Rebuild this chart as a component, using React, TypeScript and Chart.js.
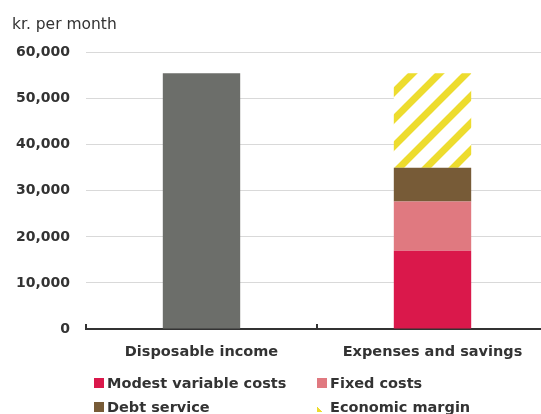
import React, { useEffect, useRef } from "react";
import { Chart, registerables } from "chart.js";

Chart.register(...registerables);

const categories = ["Disposable income", "Expenses and savings"];
const disposableIncome = [55500, null];
const modestVariableCosts = [null, 17000];
const fixedCosts = [null, 10700];
const debtService = [null, 7300];
const economicMargin = [null, 20500];
const yTicks = [0, 10000, 20000, 30000, 40000, 50000, 60000];

const TEXT = "#333333";
const FONT = "'DejaVu Sans', sans-serif";

function makeStripes(): CanvasPattern | string {
  const s = 27;
  const c = document.createElement("canvas");
  c.width = s;
  c.height = s;
  const ctx = c.getContext("2d");
  if (!ctx) return "#eddc2e";
  ctx.fillStyle = "#ffffff";
  ctx.fillRect(0, 0, s, s);
  ctx.strokeStyle = "#eddc2e";
  ctx.lineWidth = 7;
  ctx.beginPath();
  for (const k of [-s, 0, s]) {
    ctx.moveTo(k - s, 2 * s);
    ctx.lineTo(k + 2 * s, -s);
  }
  ctx.stroke();
  return ctx.createPattern(c, "repeat") || "#eddc2e";
}

const upTicks = {
  id: "upTicks",
  afterDraw(chart: any) {
    const x = chart.scales.x;
    const area = chart.chartArea;
    const ctx = chart.ctx;
    const step = x.getPixelForValue(1) - x.getPixelForValue(0);
    ctx.save();
    ctx.strokeStyle = TEXT;
    ctx.lineWidth = 2;
    for (let i = 0; i <= categories.length; i++) {
      const px = Math.round(x.getPixelForValue(i) - step / 2);
      ctx.beginPath();
      ctx.moveTo(px, area.bottom + 1);
      ctx.lineTo(px, area.bottom - 5);
      ctx.stroke();
    }
    ctx.restore();
  },
};

export default function App() {
  const ref = useRef<HTMLCanvasElement>(null);

  useEffect(() => {
    if (!ref.current) return;
    const stripes = makeStripes();
    const barOpts = { categoryPercentage: 1, barPercentage: 0.335, borderWidth: 0 };
    const chart = new Chart(ref.current, {
      type: "bar",
      data: {
        labels: categories,
        datasets: [
          { label: "Disposable income", data: disposableIncome, backgroundColor: "#6c6e6a", ...barOpts },
          { label: "Modest variable costs", data: modestVariableCosts, backgroundColor: "#da184b", ...barOpts },
          { label: "Fixed costs", data: fixedCosts, backgroundColor: "#e07980", ...barOpts },
          { label: "Debt service", data: debtService, backgroundColor: "#775b37", ...barOpts },
          { label: "Economic margin", data: economicMargin, backgroundColor: stripes as any, ...barOpts },
        ],
      },
      options: {
        responsive: false,
        animation: false,
        layout: { padding: { left: 12, right: 0, top: 0, bottom: 50 } },
        plugins: {
          legend: { display: false },
          tooltip: { enabled: false },
          title: {
            display: true,
            text: "kr. per month",
            align: "start",
            color: TEXT,
            font: { family: FONT, size: 15.5, weight: "normal" },
            padding: { top: 16, bottom: 18 },
          },
        },
        scales: {
          x: {
            stacked: true,
            border: { display: true, color: TEXT, width: 2 },
            grid: { display: false, drawTicks: false },
            ticks: {
              color: TEXT,
              font: { family: FONT, size: 14.5, weight: "bold" },
              padding: 15,
            },
            afterFit: (s: any) => {
              s.height = 35;
            },
          },
          y: {
            stacked: true,
            min: 0,
            max: 60000,
            border: { display: false },
            grid: { color: "#d9d9d9", lineWidth: 1, drawTicks: false },
            afterBuildTicks: (s: any) => {
              s.ticks = yTicks.map((v) => ({ value: v }));
            },
            afterFit: (s: any) => {
              s.width = 74;
            },
            ticks: {
              color: TEXT,
              font: { family: FONT, size: 14, weight: "bold" },
              padding: 16,
              callback: (v: any) => Number(v).toLocaleString("en-US"),
            },
          },
        },
      },
      plugins: [upTicks],
    });
    return () => chart.destroy();
  }, []);

  const legendItems = [
    { label: "Modest variable costs", bg: "#da184b" },
    { label: "Fixed costs", bg: "#e07980" },
    { label: "Debt service", bg: "#775b37" },
    { label: "Economic margin", bg: "linear-gradient(45deg, #eddc2e 0 28%, #ffffff 28% 100%)" },
  ];

  return (
    <div style={{ position: "absolute", left: 0, top: 0, width: 541, height: 414, overflow: "hidden", background: "#fff" }}>
      <canvas ref={ref} width={548} height={414} style={{ position: "absolute", left: 0, top: 0 }} />
      {legendItems.map((it, i) => {
        const col = i % 2;
        const row = Math.floor(i / 2);
        return (
          <div
            key={it.label}
            style={{
              position: "absolute",
              left: col === 0 ? 94 : 317,
              top: 373 + row * 24,
              display: "flex",
              alignItems: "center",
              fontFamily: FONT,
              fontWeight: "bold",
              fontSize: 14.5,
              color: TEXT,
              lineHeight: "20px",
              whiteSpace: "nowrap",
            }}
          >
            <span style={{ display: "inline-block", width: 10, height: 10, background: it.bg, marginRight: 3 }} />
            {it.label}
          </div>
        );
      })}
    </div>
  );
}
